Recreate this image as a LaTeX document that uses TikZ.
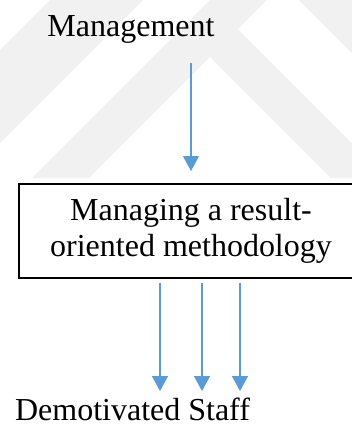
\documentclass[tikz,border=0pt]{standalone}
\usepackage{fontspec}
\setmainfont{Liberation Serif}
\usetikzlibrary{arrows.meta}
\definecolor{arrowblue}{RGB}{91,155,213}
\definecolor{markgray}{RGB}{241,241,241}
\tikzset{
	txt/.style={inner sep=0pt, font=\fontsize{16}{18}\selectfont},
	methodbox/.style={draw, line width=1pt, minimum width=172pt, minimum height=47pt, align=center, inner sep=0pt, font=\fontsize{16}{18}\selectfont},
	flow/.style={draw=arrowblue, line width=0.6pt, -{Triangle[width=8pt,length=7.5pt]}}
}

\begin{document}
\begin{tikzpicture}[x=0.5pt,y=-0.5pt]
			%%%%% START %%%%%
			\def\wmcut{178}
			\def\wide{352}
			\def\high{425}
			
			\useasboundingbox (0,0) rectangle (\wide,\high);
			\clip (0,0) rectangle (\wide,\high);
			
			% faint watermark in the back
			\begin{scope}
				\clip (0,0) rectangle (\wide,\wmcut);
				\fill[markgray] (50,0) -- (143,0) -- (0,143) -- (0,50) -- cycle;
				\fill[markgray] (210,0) -- (267,0) -- (89,178) -- (32,178) -- cycle;
				\fill[markgray] (210,57) -- (238,29) -- (387,178) -- (331,178) -- cycle;
				\fill[markgray] (299,0) -- (360,61) -- (360,0) -- cycle;
			\end{scope}
			
			\node[txt, anchor=base] (mgmt) at (131,36) {Management};
			\node[methodbox] (method) at (191,231) {Managing a result-\\oriented methodology};
			\node[txt, anchor=base] (staff) at (132.5,420) {Demotivated Staff};
			
			\draw[flow, shorten <=10pt, shorten >=6pt] (mgmt.south -| method.north) -- (method.north);
			\foreach \dx in {-15.5,5.5,24.5}
				\draw[flow, shorten <=2pt, shorten >=3pt] ([xshift=\dx pt]method.south) -- ([xshift=\dx pt]method.south |- staff.north);
			%%%%% END %%%%%
\end{tikzpicture}
\end{document}
